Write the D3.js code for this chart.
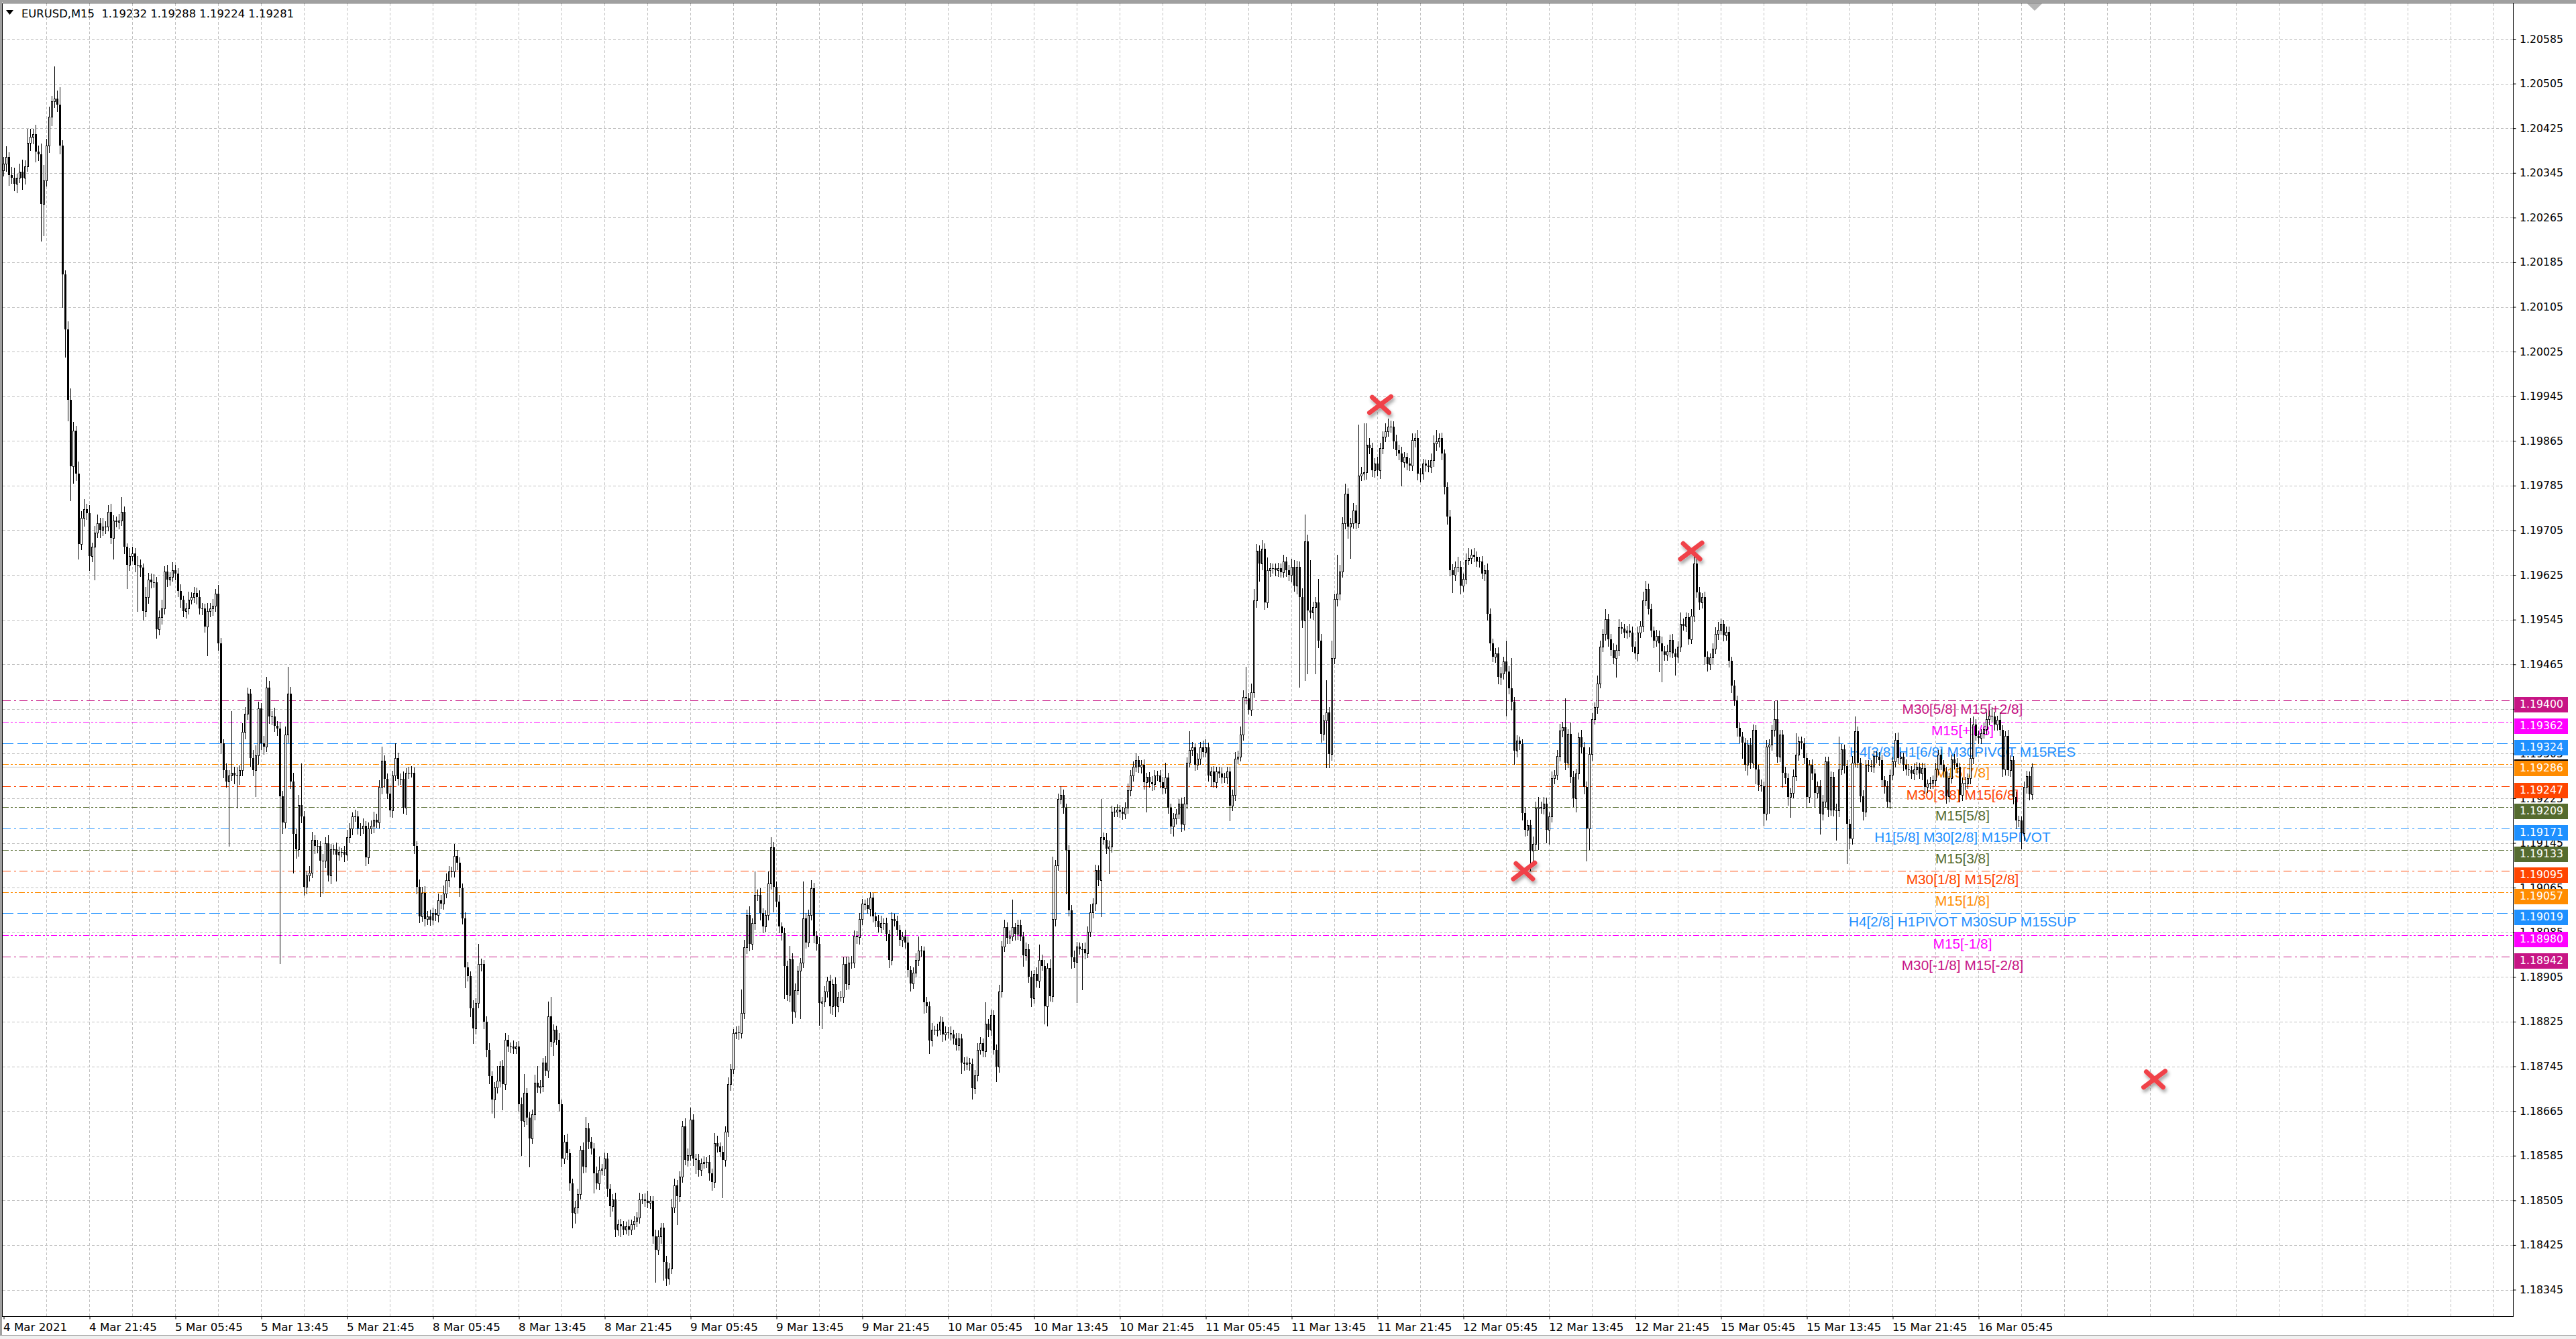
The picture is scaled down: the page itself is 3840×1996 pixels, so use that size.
<!DOCTYPE html>
<html>
<head>
<meta charset="utf-8">
<script src="https://cdn.jsdelivr.net/npm/d3@7"></script>
<style>
  html, body { margin: 0; padding: 0; background: #fff; }
  svg { display: block; }
</style>
</head>
<body>
<div id="chart"></div>
<script>
const FRAME_WIDTH = 3840;
const FRAME_HEIGHT = 1996;
const PLOT = {left: 3.5, top: 4.5, right: 3746.5, bottom: 1962.5};

// header of the chart window
const chartTitle = "EURUSD,M15  1.19232 1.19288 1.19224 1.19281";

// prices are kept in points above 1.18000 (1 point = 0.00001)
const BASE = 1.18;
const firstOpen = 2350;

// closes, one per M15 bar, 4 Mar 13:45 -> 16 Mar 10:45
const closesA = [
  2362,2373,2341,2336,2326,2336,2347,2336,2357,2399,
  2410,2415,2383,2378,2289,2331,2394,2446,2473,2478,
  2467,2394,2163,2065,1939,1820,1883,1806,1680,1727,
  1743,1736,1659,1675,1701,1717,1706,1712,1712,1738,
  1691,1722,1720,1722,1738,1675,1643,1659,1664,1643,
  1643,1638,1560,1586,1617,1612,1612,1528,1549,1565,
  1631,1617,1622,1633,1628,1596,1581,1560,1565,1581,
  1586,1593,1586,1565,1565,1533,1560,1565,1570,1591,
  1502,1323,1276,1255,1266,1271,1266,1266,1276,1344,
  1376,1412,1297,1276,1302,1386,1323,1318,1423,1371,
  1371,1355,1350,1229,1182,1339,1412,1255,1161,1134,
  1213,1192,1066,1087,1092,1150,1140,1140,1113,1113,
  1145,1087,1134,1134,1124,1129,1129,1124,1155,1171,
  1192,1192,1171,1171,1176,1119,1171,1176,1187,1182,
  1245,1292,1260,1234,1203,1266,1297,1260,1260,1208,
  1271,1271,1271,1140,1066,1014,1056,1009,1014
];
const closesB = [
  1007,1019,1016,1043,1037,1055,1079,1094,1094,1122,
  1110,1064,1010,922,907,849,813,858,928,928,
  825,774,728,686,707,719,746,713,792,780,
  780,777,780,677,647,698,653,616,659,716,
  707,710,752,737,834,789,810,792,677,580,
  610,589,535,483,492,516,595,565,634,610,
  598,553,535,559,562,580,526,495,507,453,
  462,459,453,459,453,462,468,474,507,507,
  504,501,504,441,417,441,456,395,365,383,
  492,532,513,547,638,577,586,649,580,577,
  559,571,574,574,553,538,607,601,592,577,
  628,713,740,804,806,804,840,958,1016,964,
  1001,1052,1052,1019,995,1016,1073,1137,1067,1040,
  995,983,925,873,937,843,882,916,931,1010,
  967,1016,1064,979,964,858,861,879,898,852,
  892,852,870,870,928,892,931,931,979,976
];
const closesC = [
  1009,1036,1034,1027,1047,1013,1005,994,1001,1001,
  982,936,1009,1005,990,971,977,967,917,894,
  913,936,952,952,860,852,791,810,810,811,
  825,802,806,804,802,795,783,795,752,749,
  752,749,706,729,775,787,772,821,810,837,
  775,745,879,959,994,975,978,994,982,998,
  978,944,955,906,867,910,898,936,925,852,
  921,871,1009,1105,1224,1231,1208,1132,1024,940,
  932,959,955,955,948,986,1021,1036,1097,1078,
  1155,1151,1135,1139,1201,1201,1204,1201,1197,1208,
  1239,1266,1281,1293,1281,1285,1254,1263,1254,1250,
  1266,1266,1254,1243,1262,1208,1174,1189,1197,1216,
  1178,1216,1289,1312,1316,1285,1296,1316,1308,1316,
  1266,1273,1254,1273,1270,1262,1262,1273,1212,1231,
  1296,1300,1339,1407,1404,1384,1415,1580,1668,1645,
  1672,1576,1633,1637,1637,1633,1637,1630,1649,1633
];
const closesD = [
  1625,1640,1606,1640,1585,1543,1685,1561,1558,1567,
  1576,1507,1340,1364,1379,1304,1476,1582,1591,1631,
  1718,1770,1712,1718,1740,1718,1803,1806,1809,1858,
  1852,1812,1825,1812,1852,1873,1882,1891,1891,1864,
  1848,1842,1827,1836,1824,1821,1867,1870,1806,1806,
  1824,1821,1818,1830,1861,1864,1870,1842,1782,1730,
  1634,1625,1640,1640,1606,1618,1652,1655,1661,1658,
  1649,1649,1628,1634,1555,1503,1479,1485,1443,1449,
  1470,1452,1422,1398,1310,1328,1322,1198,1168,1177,
  1131,1143,1207,1210,1207,1216,1168,1192,1261,1267,
  1301,1346,1352,1289,1340,1264,1225,1270,1334,1316,
  1246,1171,1304,1367,1388,1431,1497,1519,1546,1510,
  1491,1476,1491,1531,1529,1522,1525,1522,1497,1485,
  1522,1534,1579,1600,1564,1525,1507,1516,1503,1488,
  1482,1488,1509,1485,1479,1497,1537,1534,1549,1510,
  1552,1646,1594,1576,1585,1479
];
const closesE = [
  1465,1477,1493,1519,1527,1537,1517,1523,1471,1427,
  1401,1351,1335,1325,1285,1321,1289,1347,1277,1249,
  1247,1197,1317,1321,1347,1367,1299,1339,1271,1261,
  1227,1235,1265,1303,1327,1323,1297,1227,1285,1269,
  1235,1247,1197,1219,1291,1205,1263,1203,1203,1277,
  1313,1283,1179,1153,1289,1345,1289,1229,1201,1285,
  1283,1281,1301,1299,1293,1257,1247,1219,1267,1291,
  1329,1297,1299,1285,1277,1275,1269,1277,1281,1269,
  1279,1245,1251,1253,1257,1277,1303,1285,1273,1229,
  1261,1295,1287,1281,1231,1253,1251,1261,1297,1357,
  1337,1333,1341,1349,1367,1373,1371,1357,1365,1347,
  1277,1337,1275,1293,1227,1185,1185,1163,1245,1265,
  1232,1281
];

// upper / lower shadow length of each bar, in points
const wickUp = [
  12,20,9,14,18,8,15,22,10,25,14,9,16,11,20,28,12,18,10,30,
  15,12,10,8,14,20,16,9,22,12,18,10,14,8,12,16,10,15,9,12,
  14,10,8,12,20,10,7,14,12,9,16,10,8,18,12,10,14,9,12,16,
  10,12,8,15,10,9,12,7,10,14,8,11,9,12,10,8,15,10,12,9,
  14,10,8,12,9,30,11,14,8,16,12,10,9,15,18,12,10,14,20,12,
  10,16,8,12,9,14,20,12,16,10,18,24,10,8,12,15,9,11,8,12,
  10,14,9,8,12,10,7,11,14,9,8,12,10,9,13,8,11,9,14,10,
  12,16,10,9,14,8,12,10,9,13,8,10,12,9,8,14,10,12,9,11,
  10,8,12,9,14,12,10,8,16,10,9,8,11,10,8,14,9,12,10,8,
  9,12,8,10,14,8,10,12,9,8,11,9,10,12,16,8,10,9,14,12,
  10,8,12,9,14,10,8,12,9,10,14,8,9,12,10,8,14,20,9,8,
  10,12,9,8,11,10,8,9,12,8,10,9,8,11,9,8,10,12,9,10,
  14,9,8,12,10,8,9,11,10,16,12,9,10,8,14,12,9,10,8,11,
  9,10,8,12,9,10,14,8,11,10,12,9,8,10,12,9,14,10,12,9,
  16,10,12,9,8,14,16,10,9,12,8,10,9,14,10,12,9,8,12,10,
  9,14,10,8,12,9,10,8,11,9,12,8,10,9,14,10,12,9,8,10,
  9,8,12,10,9,8,11,14,9,10,8,12,9,10,8,9,12,10,8,9,
  11,14,9,8,10,9,12,8,10,9,8,10,9,12,8,9,10,8,9,11,
  8,10,9,12,10,8,14,9,10,8,9,12,10,14,9,10,12,8,9,10,
  8,12,9,10,8,12,14,9,10,8,16,12,10,9,14,10,8,9,10,12,
  9,8,10,12,9,14,10,9,8,16,9,12,10,9,8,10,9,8,10,12,
  9,10,12,8,9,10,8,9,11,10,8,9,10,12,9,8,10,9,8,10,
  12,9,14,10,8,9,10,12,14,9,8,10,9,8,10,9,8,9,10,12,
  10,14,12,9,10,16,20,12,10,14,9,12,10,8,9,10,8,12,9,10,
  14,12,10,9,16,20,12,14,10,9,16,12,10,14,9,12,10,14,12,10,
  12,10,9,14,10,16,12,18,14,12,10,9,12,10,9,12,14,10,9,12,
  10,12,9,8,10,12,9,14,10,9,8,10,12,14,12,9,10,8,9,12,
  10,9,12,10,9,12,8,10,12,9,8,10,9,12,10,8,9,10,12,9,
  14,10,12,9,10,8,9,12,10,9,14,12,10,9,12,10,8,12,9,10,
  12,10,16,9,14,10,8,9,14,10,9,12,10,9,14,10,9,12,10,9,
  12,9,14,10,8,9,12,10,9,10,8,16,14,10,9,8,10,9,12,10,
  12,9,10,8,9,12,10,9,8,12,14,10,9,8,10,9,8,10,12,9,
  10,8,9,10,8,9,8,10,9,8,9,12,10,9,8,10,8,12,10,9,
  12,14,9,8,10,9,8,12,10,9,8,10,9,8,10,9,8,10,12,9,
  8,10,9,12,10,9,8,10,9,12,10,9,8,10,9,8,10,9,8,9,
  10,8,9,10,8,12,14,9,8,10,9,8,10,9,8,10,9,8,10,9,
  12,9,10,8,9,10,8,9,10,8,9,10,8,12,14,10,9,8,10,12,
  10,14,9,8,10,9,8,10,9,8,10,9,8,10,9,8,7
];
const wickDn = [
  10,14,18,9,12,16,8,20,11,9,14,12,18,10,15,22,9,12,16,10,
  12,15,18,20,14,16,10,12,18,9,14,11,16,10,12,9,14,10,12,8,
  10,14,9,12,8,11,14,10,9,12,10,15,12,9,11,10,8,14,10,12,
  9,12,10,8,11,9,14,10,12,9,8,10,12,9,11,10,14,9,12,10,
  12,18,14,10,12,9,14,11,16,10,12,9,14,10,12,16,10,14,9,12,
  14,10,12,16,20,10,14,12,10,16,12,10,14,12,10,9,14,12,10,12,
  12,10,14,9,12,10,8,12,10,9,11,8,10,12,9,14,10,8,12,9,
  10,12,14,9,10,12,8,11,10,9,12,10,8,14,12,10,9,12,10,9,
  8,10,12,9,10,8,11,9,10,12,14,10,12,9,14,12,10,8,12,10,
  12,14,10,12,9,10,12,9,8,10,9,8,12,14,10,12,14,9,10,8,
  9,10,8,12,9,10,8,12,14,9,10,12,14,12,9,8,10,9,12,10,
  12,9,10,8,12,14,12,9,12,10,14,9,8,10,9,8,10,9,8,10,
  9,10,12,14,9,12,14,12,10,9,8,12,10,9,8,10,9,12,14,10,
  9,8,10,12,14,10,9,8,12,10,9,10,8,9,10,8,9,10,12,9,
  10,9,12,10,8,9,10,12,9,10,12,14,10,12,9,10,8,12,9,10,
  8,9,12,10,14,12,9,10,12,14,10,9,8,10,9,8,10,9,10,12,
  10,9,8,12,9,10,8,9,10,12,14,9,8,10,9,12,10,12,14,9,
  8,10,9,12,10,14,9,8,10,9,12,10,8,9,10,9,8,12,10,9,
  10,14,9,10,8,9,10,12,9,8,14,10,9,8,10,9,8,10,9,8,
  12,9,10,14,9,10,12,8,12,14,9,10,12,9,8,10,14,9,12,10,
  14,9,12,10,8,9,10,12,9,12,8,9,12,10,9,8,10,9,8,10,
  9,10,8,9,10,12,9,8,10,9,8,10,9,8,10,12,9,10,8,12,
  10,9,8,10,9,8,10,9,8,10,12,9,10,8,9,8,10,12,9,10,
  9,8,10,9,8,10,9,12,14,10,12,9,10,8,9,10,8,9,10,9,
  12,10,14,16,12,18,14,10,12,14,12,14,10,12,14,10,9,12,10,9,
  10,14,12,9,10,8,9,10,12,9,10,12,9,14,10,9,8,10,12,9,
  10,12,9,10,8,9,12,10,14,9,10,8,9,10,12,9,10,12,14,10,
  12,10,9,14,10,9,8,10,9,8,10,9,12,10,12,9,10,12,14,10,
  12,10,14,12,10,9,12,10,9,14,12,10,12,9,10,12,14,9,10,8,
  9,10,12,9,10,14,12,10,9,12,14,12,10,9,10,8,9,10,12,10,
  9,14,10,8,9,10,8,9,10,14,9,10,8,9,10,12,9,14,12,10,
  9,10,8,14,10,9,8,10,9,8,10,9,12,10,14,12,9,10,8,9,
  8,10,9,10,12,9,14,10,12,9,14,10,9,12,10,9,14,10,12,9,
  10,9,8,12,10,14,12,9,8,10,9,10,14,9,10,12,9,14,10,9,
  12,10,9,14,10,9,12,14,12,10,8,9,10,14,9,10,8,9,10,9,
  10,12,9,12,8,9,10,8,9,10,9,8,10,9,8,10,12,9,8,10,
  9,10,8,9,12,10,8,9,10,12,9,10,8,9,10,8,9,10,8,9,
  10,8,9,10,9,12,10,9,10,12,14,10,12,14,10,9,8
];

// longer shadows read one by one: [bar, extreme in points]
const spikeHi = [
  [19,2536],[21,2499],[44,1764],[63,1643],[80,1607],[85,1381],[91,1423],[98,1428],[106,1460],[111,1287],
  [141,1318],[146,1323],[168,1143],[177,964],[184,746],[187,804],[194,731],[199,746],[203,861],[204,870],
  [209,622],[217,647],[222,583],[237,513],[240,522],[250,544],[253,647],[256,671],[265,625],[275,883],
  [278,1031],[280,1094],[285,1094],[286,1155],[293,961],[298,1076],[301,1070],[313,940],[341,978],[366,860],
  [376,1044],[386,963],[391,1120],[394,1247],[409,1224],[413,1212],[422,1296],[433,1289],[442,1345],[448,1331],
  [462,1419],[463,1461],[467,1676],[469,1687],[471,1656],[485,1733],[487,1652],[490,1618],[493,1437],[495,1507],
  [497,1661],[500,1788],[505,1894],[507,1897],[508,1897],[515,1897],[516,1900],[527,1873],[534,1885],[542,1658],
  [546,1673],[548,1673],[560,1507],[562,1476],[572,1228],[582,1404],[584,1361],[597,1564],[602,1546],[612,1609],
  [613,1609],[625,1558],[630,1655],[639,1541],[640,1543],[660,1399],[661,1401],[668,1341],[669,1333],[679,1299],
  [684,1335],[690,1371],[705,1333],[733,1369],[741,1389],[744,1379]
];
const spikeLo = [
  [14,2223],[15,2233],[22,2105],[23,2016],[24,1901],[25,1759],[26,1790],[28,1654],[32,1633],[34,1617],
  [41,1654],[46,1601],[50,1560],[52,1544],[57,1512],[76,1481],[84,1140],[87,1208],[94,1229],[103,930],
  [108,1092],[112,1061],[118,1050],[119,1056],[124,1077],[155,1003],[172,886],[175,786],[179,813],[182,662],
  [183,653],[186,668],[193,586],[196,565],[205,765],[208,571],[212,456],[213,465],[220,519],[225,513],
  [226,477],[228,450],[230,441],[243,359],[246,362],[247,356],[251,462],[258,553],[264,532],[268,510],
  [287,1022],[291,867],[294,822],[297,831],[304,819],[305,813],[309,846],[310,834],[330,925],[338,883],
  [343,841],[345,768],[357,733],[361,687],[370,718],[380,925],[383,852],[388,821],[389,818],[396,1055],
  [398,921],[400,860],[402,883],[409,1013],[412,1090],[426,1201],[436,1158],[440,1174],[450,1247],[457,1185],
  [468,1614],[470,1568],[483,1425],[485,1437],[486,1449],[489,1449],[493,1280],[494,1280],[501,1691],[502,1655],
  [513,1806],[521,1785],[528,1797],[540,1594],[543,1597],[558,1437],[560,1373],[563,1286],[569,1095],[570,1107],
  [572,1134],[575,1146],[576,1143],[586,1201],[590,1113],[591,1134],[601,1443],[609,1473],[617,1452],[618,1434],
  [623,1446],[644,1423],[646,1347],[648,1297],[650,1267],[653,1251],[656,1177],[658,1199],[663,1245],[666,1191],
  [672,1209],[675,1211],[677,1161],[683,1151],[687,1109],[688,1135],[693,1191],[701,1237],[703,1213],[749,1217],
  [750,1173],[752,1135],[753,1213]
];

// price scale tick labels
const priceTicks = [
  "1.20585","1.20505","1.20425","1.20345","1.20265","1.20185","1.20105","1.20025",
  "1.19945","1.19865","1.19785","1.19705","1.19625","1.19545","1.19465","1.19385",
  "1.19305","1.19225","1.19145","1.19065","1.18985","1.18905","1.18825","1.18745",
  "1.18665","1.18585","1.18505","1.18425","1.18345"
];

// time scale labels and the bar each one sits on
const timeLabels = [
  "4 Mar 2021","4 Mar 21:45","5 Mar 05:45","5 Mar 13:45","5 Mar 21:45","8 Mar 05:45",
  "8 Mar 13:45","8 Mar 21:45","9 Mar 05:45","9 Mar 13:45","9 Mar 21:45","10 Mar 05:45",
  "10 Mar 13:45","10 Mar 21:45","11 Mar 05:45","11 Mar 13:45","11 Mar 21:45","12 Mar 05:45",
  "12 Mar 13:45","12 Mar 21:45","15 Mar 05:45","15 Mar 13:45","15 Mar 21:45","16 Mar 05:45"
];
const timeLabelBars = [0,32,64,96,128,160,192,224,256,288,320,352,384,416,448,480,512,544,576,608,640,672,704,736];

// murrey / pivot levels
const levelPrices = [1.19400,1.19362,1.19324,1.19286,1.19247,1.19209,1.19171,1.19133,1.19095,1.19057,1.19019,1.18980,1.18942];
const levelNames = [
  "M30[5/8] M15[+2/8]","M15[+1/8]","H4[3/8] H1[6/8] M30PIVOT M15RES","M15[7/8]",
  "M30[3/8] M15[6/8]","M15[5/8]","H1[5/8] M30[2/8] M15PIVOT","M15[3/8]",
  "M30[1/8] M15[2/8]","M15[1/8]","H4[2/8] H1PIVOT M30SUP M15SUP","M15[-1/8]","M30[-1/8] M15[-2/8]"
];
const levelKinds = ["violet","magenta","blue","orange","red","olive","bluedot","olive","red","orange","blue","magenta","violet"];
const levelLabelBar = 730;

// red crosses: [bar, price]
const markerBars = [513, 566.6, 628.9, 801.5];
const markerPrices = [1.19930, 1.19095, 1.19668, 1.18722];

// styles
const KIND = {
  violet:  {color: "#c71585", dash: "12,5,3,5"},
  magenta: {color: "#ff00ff", dash: "9,3,3,3,3,3"},
  blue:    {color: "#1e90ff", dash: "16,6"},
  bluedot: {color: "#1e90ff", dash: "12,5,3,5"},
  orange:  {color: "#ff8c00", dash: "9,3,3,3,3,3"},
  red:     {color: "#ff4500", dash: "12,5,3,5"},
  olive:   {color: "#556b2f", dash: "9,3,3,3,3,3"}
};

const closes = closesA.concat(closesB, closesC, closesD, closesE);
const bars = closes.map((c, i) => {
  const o = i === 0 ? firstOpen : closes[i - 1];
  return {i: i, o: o, c: c,
          h: Math.max(o, c) + (wickUp[i] || 0),
          l: Math.min(o, c) - (wickDn[i] || 0)};
});
spikeHi.forEach(([i, v]) => { bars[i].h = Math.max(bars[i].h, v); });
spikeLo.forEach(([i, v]) => { bars[i].l = Math.min(bars[i].l, v); });
const P = v => BASE + v / 100000;

const svg = d3.select("#chart").append("svg")
  .attr("width", FRAME_WIDTH)
  .attr("height", FRAME_HEIGHT)
  .style("font-family", "'DejaVu Sans', sans-serif");

const x = d3.scaleLinear().domain([0, 756]).range([5.5, 3029.5]);
const y = d3.scaleLinear().domain([1.18345, 1.20585]).range([1922.5, 58]);
const snap = v => Math.round(v) + 0.5;

svg.append("rect").attr("width", FRAME_WIDTH).attr("height", FRAME_HEIGHT).attr("fill", "#fff");

svg.append("defs").append("clipPath").attr("id", "plotclip")
  .append("rect").attr("x", 4).attr("y", 5).attr("width", PLOT.right - 4.5).attr("height", PLOT.bottom - 5.5);

const plot = svg.append("g").attr("clip-path", "url(#plotclip)");

// grid
const gridG = plot.append("g")
  .attr("stroke", "#c0c0c0").attr("stroke-width", 1).attr("stroke-dasharray", "4,3")
  .attr("shape-rendering", "crispEdges");
gridG.selectAll("line.v")
  .data(d3.range(16, 940, 16).filter(b => x(b) < PLOT.right))
  .enter().append("line")
    .attr("x1", d => x(d)).attr("x2", d => x(d))
    .attr("y1", PLOT.top).attr("y2", PLOT.bottom);
gridG.selectAll("line.h")
  .data(priceTicks)
  .enter().append("line")
    .attr("x1", PLOT.left).attr("x2", PLOT.right)
    .attr("y1", d => snap(y(+d))).attr("y2", d => snap(y(+d)));

// level lines
plot.append("g").selectAll("line")
  .data(levelPrices)
  .enter().append("line")
    .attr("x1", PLOT.left).attr("x2", PLOT.right)
    .attr("y1", d => snap(y(d))).attr("y2", d => snap(y(d)))
    .attr("stroke", (d, i) => KIND[levelKinds[i]].color)
    .attr("stroke-dasharray", (d, i) => KIND[levelKinds[i]].dash)
    .attr("stroke-width", 1)
    .attr("shape-rendering", "crispEdges");

// bid line
const lastClose = P(closes[closes.length - 1]);
plot.append("line")
  .attr("x1", PLOT.left).attr("x2", PLOT.right)
  .attr("y1", snap(y(lastClose))).attr("y2", snap(y(lastClose)))
  .attr("stroke", "#c0c0c0").attr("shape-rendering", "crispEdges");

// level texts
plot.append("g").selectAll("text")
  .data(levelPrices)
  .enter().append("text")
    .attr("x", x(levelLabelBar))
    .attr("y", d => Math.round(y(d)) + 19.5)
    .attr("text-anchor", "middle")
    .attr("font-family", "'Liberation Sans', Arial, sans-serif")
    .attr("font-size", 20.8)
    .attr("fill", (d, i) => KIND[levelKinds[i]].color)
    .text((d, i) => levelNames[i]);

// candles
const candleG = plot.append("g").attr("shape-rendering", "crispEdges");
candleG.selectAll("line.wick")
  .data(bars)
  .enter().append("line")
    .attr("x1", d => x(d.i)).attr("x2", d => x(d.i))
    .attr("y1", d => Math.round(y(P(d.h))))
    .attr("y2", d => Math.round(y(P(d.l))) + 1)
    .attr("stroke", "#000").attr("stroke-width", 1);
candleG.selectAll("rect.body")
  .data(bars)
  .enter().append("rect")
    .attr("x", d => d.c > d.o ? x(d.i) - 1 : x(d.i) - 1.5)
    .attr("y", d => {
      const t = Math.round(y(P(Math.max(d.o, d.c))));
      return d.c > d.o ? t + 0.5 : t;
    })
    .attr("width", d => d.c > d.o ? 2 : 3)
    .attr("height", d => {
      const t = Math.round(y(P(Math.max(d.o, d.c))));
      const b = Math.round(y(P(Math.min(d.o, d.c))));
      return d.c > d.o ? Math.max(b - t, 1) : Math.max(b - t, 1);
    })
    .attr("fill", d => d.c > d.o ? "#fff" : "#000")
    .attr("stroke", d => d.c > d.o ? "#000" : "none")
    .attr("stroke-width", 1);

// red crosses
const defs = svg.select("defs");
const sh = defs.append("filter").attr("id", "xshadow")
  .attr("x", "-50%").attr("y", "-50%").attr("width", "200%").attr("height", "200%");
sh.append("feDropShadow").attr("dx", 2).attr("dy", 4).attr("stdDeviation", 2.5)
  .attr("flood-color", "#000").attr("flood-opacity", 0.35);
const crossG = plot.append("g").attr("filter", "url(#xshadow)");
markerBars.forEach((b, i) => {
  const cx = x(b), cy = y(markerPrices[i]);
  crossG.append("path")
    .attr("d", `M${cx - 16},${cy + 12}L${cx + 16},${cy - 12}M${cx - 12},${cy - 11}L${cx + 13},${cy + 12}`)
    .attr("stroke", "#f0424a").attr("stroke-width", 7).attr("stroke-linecap", "round")
    .attr("fill", "none");
});

// window chrome and frame
svg.append("rect").attr("x", 0).attr("y", 0).attr("width", FRAME_WIDTH).attr("height", 3.5).attr("fill", "#a0a0a0");
svg.append("rect").attr("x", 0).attr("y", 0).attr("width", 3).attr("height", FRAME_HEIGHT).attr("fill", "#a0a0a0");
svg.append("rect").attr("x", 0).attr("y", 1990).attr("width", FRAME_WIDTH).attr("height", 6).attr("fill", "#f0f0f0");
svg.append("line").attr("x1", 0).attr("x2", FRAME_WIDTH).attr("y1", 1990.5).attr("y2", 1990.5).attr("stroke", "#a0a0a0");
const frame = svg.append("g").attr("stroke", "#000").attr("stroke-width", 1).attr("shape-rendering", "crispEdges");
frame.append("line").attr("x1", PLOT.left).attr("x2", FRAME_WIDTH).attr("y1", PLOT.top).attr("y2", PLOT.top);
frame.append("line").attr("x1", PLOT.left).attr("x2", PLOT.left).attr("y1", PLOT.top).attr("y2", PLOT.bottom);
frame.append("line").attr("x1", PLOT.right).attr("x2", PLOT.right).attr("y1", PLOT.top).attr("y2", PLOT.bottom);
frame.append("line").attr("x1", PLOT.left).attr("x2", PLOT.right).attr("y1", PLOT.bottom).attr("y2", PLOT.bottom);

// chart shift marker
svg.append("path").attr("d", "M3022,5.5L3044,5.5L3033,16Z").attr("fill", "#b4b4b4");

// price axis
const yAxis = d3.axisRight(y)
  .tickValues(priceTicks.map(Number))
  .tickFormat((d, i) => priceTicks[i])
  .tickSize(4)
  .tickPadding(5.5);
svg.append("g")
  .attr("transform", `translate(${PLOT.right},0)`)
  .call(yAxis)
  .call(g => g.select(".domain").remove())
  .call(g => g.selectAll("line").attr("stroke", "#000"))
  .call(g => g.selectAll("text")
    .attr("font-family", "'DejaVu Sans', sans-serif")
    .attr("font-size", 15.7)
    .attr("fill", "#000"));

// bid label (mostly hidden) and level price boxes
svg.append("rect")
  .attr("x", 3748).attr("y", Math.round(y(lastClose)) - 11)
  .attr("width", 80).attr("height", 22).attr("fill", "#000");
const boxG = svg.append("g");
levelPrices.forEach((p, i) => {
  const yy = Math.round(y(p));
  boxG.append("rect")
    .attr("x", 3748).attr("y", yy - 5)
    .attr("width", 80).attr("height", 23)
    .attr("fill", KIND[levelKinds[i]].color);
  boxG.append("text")
    .attr("x", 3756).attr("y", yy + 6.5)
    .attr("dominant-baseline", "middle")
    .attr("font-size", 15.7)
    .attr("fill", "#fff")
    .text(p.toFixed(5));
});

// time axis
const xAxis = d3.axisBottom(x)
  .tickValues(timeLabelBars)
  .tickFormat((d, i) => timeLabels[i])
  .tickSize(4)
  .tickPadding(5.6);
svg.append("g")
  .attr("transform", `translate(0,${PLOT.bottom})`)
  .call(xAxis)
  .call(g => g.select(".domain").remove())
  .call(g => g.selectAll("line").attr("stroke", "#000"))
  .call(g => g.selectAll("text")
    .attr("text-anchor", "start")
    .attr("dx", -1)
    .attr("font-family", "'DejaVu Sans', sans-serif")
    .attr("font-size", 16.7)
    .attr("fill", "#000"));

// header
svg.append("path").attr("d", "M9,15L20,15L14.5,22Z").attr("fill", "#000");
svg.append("text")
  .attr("x", 32).attr("y", 26)
  .attr("font-size", 16.4)
  .attr("fill", "#000")
  .attr("xml:space", "preserve")
  .style("white-space", "pre")
  .text(chartTitle);
</script>
</body>
</html>
